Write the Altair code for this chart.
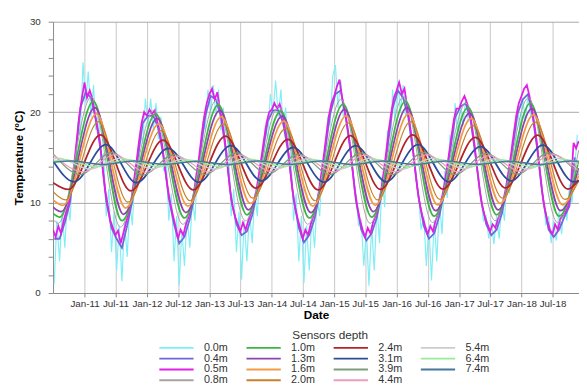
import altair as alt
import pandas as pd

# ---------------- data ----------------
# 0.5m sensor, values on the 1st and 16th of each month, Jul-2010 .. Dec-2018
temp_05m = [
    7.0, 6.2, 7.4, 6.6, 8.0, 9.0, 9.8, 11.8, 14.2, 16.8, 19.5, 21.5,
    23.3, 21.6, 22.4, 21.5, 20.0, 18.5, 16.8, 14.0, 11.5, 9.8, 8.0, 7.2, 6.4, 6.9, 5.5, 6.6, 7.8, 8.8, 10.2, 12.3, 14.5, 16.8, 18.8, 20.0,
    19.6, 20.3, 19.8, 20.2, 19.0, 17.8, 16.2, 13.8, 11.8, 10.0, 8.6, 7.4, 6.0, 7.0, 6.4, 7.6, 8.4, 9.6, 11.0, 13.0, 15.0, 17.4, 19.5, 21.0,
    22.0, 22.6, 21.4, 22.2, 20.6, 19.0, 17.0, 14.2, 11.5, 9.6, 8.4, 7.6, 6.8, 7.8, 7.0, 8.0, 8.8, 10.0, 11.2, 13.0, 15.0, 17.0, 18.8, 20.0,
    20.3, 21.0, 20.4, 20.9, 20.0, 18.6, 16.8, 14.0, 11.5, 9.6, 8.2, 7.2, 6.0, 7.0, 6.4, 7.6, 8.5, 9.6, 11.0, 13.0, 15.2, 17.5, 19.6, 21.0,
    21.8, 22.8, 23.6, 21.6, 20.4, 18.8, 16.8, 14.0, 11.4, 9.6, 8.0, 7.0, 6.2, 7.2, 6.6, 7.8, 8.6, 9.8, 11.2, 13.2, 15.6, 18.0, 20.0, 21.6,
    22.4, 23.3, 22.0, 22.6, 20.8, 19.0, 16.8, 14.0, 11.6, 9.8, 8.4, 7.4, 6.5, 7.4, 6.8, 8.0, 8.8, 10.0, 11.4, 13.2, 15.2, 17.2, 19.2, 20.4,
    20.4, 21.2, 21.8, 21.0, 20.2, 18.6, 16.4, 13.8, 11.4, 9.6, 8.4, 7.6, 6.8, 7.6, 7.2, 8.2, 9.0, 10.2, 11.6, 13.4, 15.4, 17.6, 19.6, 21.0,
    21.8, 22.6, 23.0, 21.8, 20.6, 18.8, 16.6, 13.8, 11.2, 9.4, 8.0, 7.0, 6.5, 7.6, 7.0, 8.2, 8.6, 9.0, 9.6, 11.5, 16.6, 16.0, 16.8,
]
# 0.0m sensor, values on the 8th and 23rd of each month, Jul-2010 .. Nov-2018
temp_00m = [
    1.0, 8.0, 3.5, 9.0, 5.0, 10.5, 8.0, 13.0, 12.5, 19.0, 17.5, 25.5,
    21.0, 24.5, 19.5, 23.0, 18.0, 20.0, 14.0, 15.5, 8.5, 11.5, 4.5, 9.0, 2.5, 7.5, 1.3, 8.0, 4.0, 10.0, 7.5, 13.5, 12.0, 18.0, 16.5, 21.5,
    18.5, 21.5, 18.0, 21.0, 17.0, 19.5, 13.5, 15.0, 8.0, 11.0, 3.5, 8.5, 0.8, 7.0, 3.0, 8.5, 5.0, 10.5, 8.0, 14.0, 13.0, 19.0, 18.0, 22.5,
    20.0, 23.0, 19.5, 22.5, 18.0, 20.5, 14.5, 16.0, 8.5, 11.5, 4.5, 9.0, 1.5, 8.0, 3.5, 9.0, 5.5, 11.0, 8.5, 14.0, 12.5, 18.5, 17.0, 22.0,
    20.0, 23.5, 19.5, 22.5, 18.5, 20.5, 14.0, 15.5, 8.0, 11.0, 3.5, 8.5, 1.1, 7.5, 2.5, 8.5, 5.0, 10.5, 8.5, 14.5, 13.5, 19.5, 18.5, 24.0,
    25.2, 20.5, 23.5, 19.5, 20.0, 17.5, 15.5, 13.0, 11.0, 7.5, 8.0, 3.0, 7.0, 0.8, 7.5, 2.5, 9.5, 5.5, 13.0, 9.5, 18.0, 14.0, 22.5, 19.0,
    23.5, 20.0, 23.0, 19.5, 20.0, 17.0, 15.5, 12.5, 11.0, 7.0, 8.5, 3.0, 7.5, 1.4, 8.0, 3.5, 10.0, 6.5, 13.5, 10.5, 17.5, 14.0, 21.0, 17.5,
    21.0, 18.5, 21.5, 19.0, 19.5, 17.0, 15.0, 12.5, 10.5, 8.0, 8.5, 6.0, 8.0, 5.4, 8.5, 6.0, 10.0, 8.0, 13.0, 11.0, 17.0, 14.5, 20.5, 18.0,
    21.5, 19.0, 22.0, 19.5, 19.5, 17.5, 15.0, 12.0, 10.5, 7.5, 8.5, 5.5, 8.0, 5.8, 9.0, 6.5, 10.0, 8.0, 12.0, 10.0, 14.0, 17.5,
]
# 0.4m sensor, one value on the 8th of each month, Jul-2010 .. Nov-2018
temp_04m = [
    6.0, 6.0, 7.8, 10.0, 14.8, 20.5,
    22.2, 21.6, 19.2, 15.5, 10.2, 7.2, 6.0, 5.0, 7.5, 10.2, 14.8, 18.8,
    19.6, 19.6, 18.2, 15.0, 10.5, 7.6, 5.5, 6.2, 8.2, 11.0, 15.5, 19.6,
    21.8, 21.4, 19.6, 15.6, 10.4, 7.6, 6.4, 6.8, 8.6, 11.2, 15.4, 19.0,
    20.2, 20.2, 18.8, 15.4, 10.4, 7.2, 5.6, 6.4, 8.2, 11.0, 15.6, 19.8,
    22.0, 22.4, 19.6, 15.4, 10.2, 7.0, 5.8, 6.6, 8.4, 11.2, 16.0, 20.4,
    22.4, 21.6, 19.6, 15.4, 10.6, 7.4, 6.0, 6.6, 8.6, 11.4, 15.6, 19.4,
    20.6, 21.0, 19.2, 15.0, 10.4, 7.6, 6.4, 7.0, 8.8, 11.6, 15.8, 19.8,
    21.4, 22.0, 19.4, 15.2, 10.2, 7.0, 6.2, 7.0, 8.4, 9.6, 15.0,
]

# deeper sensors: yearly summer peaks and winter troughs (month of year as fraction)
smooth_series = {
    "0.8m": dict(peak_month=1.3, trough_month=6.9, first_peak=2011, first_trough=2010,
                 peaks=[21.7, 20.2, 21.3, 20.6, 21.4, 21.7, 21.0, 21.6],
                 troughs=[7.7, 7.3, 7.6, 8.0, 7.6, 7.7, 7.8, 8.0, 7.8], start=8.2, end=15.8),
    "1.0m": dict(peak_month=1.7, trough_month=7.2, first_peak=2011, first_trough=2010,
                 peaks=[21.2, 19.8, 20.8, 20.1, 20.9, 21.2, 20.5, 21.0],
                 troughs=[8.4, 8.0, 8.3, 8.65, 8.3, 8.4, 8.5, 8.65, 8.5], start=8.8, end=14.6),
    "1.3m": dict(peak_month=2.0, trough_month=7.5, first_peak=2011, first_trough=2010,
                 peaks=[20.5, 19.3, 20.2, 19.6, 20.3, 20.5, 19.9, 20.4],
                 troughs=[9.0, 8.7, 8.9, 9.2, 8.9, 9.0, 9.1, 9.2, 9.1], start=9.5, end=13.8),
    "1.6m": dict(peak_month=2.3, trough_month=7.9, first_peak=2011, first_trough=2010,
                 peaks=[19.8, 18.7, 19.5, 19.0, 19.6, 19.8, 19.3, 19.7],
                 troughs=[9.7, 9.4, 9.6, 9.9, 9.6, 9.7, 9.75, 9.9, 9.75], start=10.3, end=13.0),
    "2.0m": dict(peak_month=2.7, trough_month=8.3, first_peak=2011, first_trough=2010,
                 peaks=[18.95, 18.0, 18.7, 18.2, 18.8, 18.95, 18.5, 18.9],
                 troughs=[10.3, 10.05, 10.2, 10.5, 10.2, 10.3, 10.35, 10.5, 10.35], start=11.2, end=12.4),
    "2.4m": dict(peak_month=3.1, trough_month=8.9, first_peak=2011, first_trough=2010,
                 peaks=[17.5, 16.9, 17.35, 17.0, 17.4, 17.5, 17.2, 17.45],
                 troughs=[11.45, 11.3, 11.4, 11.6, 11.4, 11.45, 11.5, 11.6, 11.5], start=12.2, end=12.5),
    "3.1m": dict(peak_month=4.1, trough_month=10.0, first_peak=2011, first_trough=2010,
                 peaks=[16.4, 16.0, 16.3, 16.1, 16.3, 16.4, 16.2, 16.35],
                 troughs=[12.3, 12.2, 12.25, 12.4, 12.25, 12.3, 12.3, 12.4, 12.3], start=14.6, end=12.35),
    "3.9m": dict(peak_month=5.2, trough_month=11.2, first_peak=2011, first_trough=2010,
                 peaks=[15.55, 15.3, 15.5, 15.35, 15.5, 15.55, 15.45, 15.5],
                 troughs=[13.1, 13.05, 13.1, 13.15, 13.1, 13.1, 13.1, 13.15], start=15.4, end=13.1),
    "4.4m": dict(peak_month=5.8, trough_month=11.8, first_peak=2011, first_trough=2010,
                 peaks=[15.3, 15.1, 15.25, 15.15, 15.25, 15.3, 15.2, 15.3],
                 troughs=[13.4, 13.35, 13.4, 13.45, 13.4, 13.4, 13.4, 13.45], start=15.3, end=13.5),
    "5.4m": dict(peak_month=7.0, trough_month=1.0, first_peak=2010, first_trough=2011,
                 peaks=[14.9, 14.9, 14.8, 14.9, 14.85, 14.9, 14.9, 14.85, 14.9],
                 troughs=[13.7, 13.75, 13.7, 13.75, 13.7, 13.7, 13.75, 13.7], start=14.85, end=14.2),
    "6.4m": dict(peak_month=8.2, trough_month=2.2, first_peak=2010, first_trough=2011,
                 peaks=[14.75, 14.75, 14.7, 14.75, 14.72, 14.75, 14.75, 14.72, 14.75],
                 troughs=[13.97, 14.0, 13.97, 14.0, 13.97, 13.97, 14.0, 13.97], start=14.55, end=14.5),
    "7.4m": dict(peak_month=9.5, trough_month=3.5, first_peak=2010, first_trough=2011,
                 peaks=[14.6, 14.6, 14.58, 14.6, 14.6, 14.6, 14.6, 14.58, 14.6],
                 troughs=[14.2, 14.22, 14.2, 14.22, 14.2, 14.2, 14.22, 14.2], start=14.45, end=14.58),
}

depth_order = ["0.0m", "0.4m", "0.5m", "0.8m", "1.0m", "1.3m", "1.6m", "2.0m",
               "2.4m", "3.1m", "3.9m", "4.4m", "5.4m", "6.4m", "7.4m"]
depth_colors = {
    "0.0m": "#80eef5", "0.4m": "#6f68d8", "0.5m": "#e41fe4", "0.8m": "#a4a4a4",
    "1.0m": "#3db545", "1.3m": "#8e44ad", "1.6m": "#f39a45", "2.0m": "#c8802c",
    "2.4m": "#b0242c", "3.1m": "#2b4c9b", "3.9m": "#7d9d7d", "4.4m": "#ee9cc0",
    "5.4m": "#cccccc", "6.4m": "#98ec98", "7.4m": "#47789a",
}
depth_widths = {
    "0.0m": 1.2, "0.4m": 1.8, "0.5m": 1.8, "0.8m": 1.0, "1.0m": 1.8, "1.3m": 1.8,
    "1.6m": 1.8, "2.0m": 1.2, "2.4m": 1.8, "3.1m": 1.8, "3.9m": 1.2, "4.4m": 1.2,
    "5.4m": 1.4, "6.4m": 1.4, "7.4m": 1.6,
}

# ---------------- build tables ----------------
def month_days(n, days, y=2010, m=7):
    out = []
    while len(out) < n:
        for d in days:
            if len(out) < n:
                out.append(f"{y:04d}-{m:02d}-{d:02d}")
        m += 1
        if m > 12:
            m, y = 1, y + 1
    return out

rows = []
for name, vals, days in [("0.0m", temp_00m, (8, 23)), ("0.4m", temp_04m, (8,)), ("0.5m", temp_05m, (1, 16))]:
    for d, v in zip(month_days(len(vals), days), vals):
        rows.append({"date": d, "temp": v, "depth": name, "sw": depth_widths[name]})
noisy_df = pd.DataFrame(rows)

t0 = pd.Timestamp("2010-07-01")
t1 = pd.Timestamp("2018-12-01")
rows = []
for name, s in smooth_series.items():
    pts = [(t0, s["start"]), (t1, s["end"])]
    for i, v in enumerate(s["peaks"]):
        pts.append((pd.Timestamp(year=s["first_peak"] + i, month=1, day=1) + pd.Timedelta(days=round(s["peak_month"] * 30.44)), v))
    for i, v in enumerate(s["troughs"]):
        pts.append((pd.Timestamp(year=s["first_trough"] + i, month=1, day=1) + pd.Timedelta(days=round(s["trough_month"] * 30.44)), v))
    pts = sorted(p for p in pts if t0 <= p[0] <= t1)
    for d, v in pts:
        rows.append({"date": d.strftime("%Y-%m-%d"), "temp": v, "depth": name, "sw": depth_widths[name]})
smooth_df = pd.DataFrame(rows)

tick_dates = [alt.DateTime(year=y, month=m, date=1, utc=True)
              for y in range(2011, 2019) for m in (1, 7)]

x_enc = alt.X("date:T", title="Date",
              scale=alt.Scale(type="utc",
                              domain=[alt.DateTime(year=2010, month=7, date=1, utc=True),
                                      alt.DateTime(year=2018, month=12, date=3, utc=True)]),
              axis=alt.Axis(values=tick_dates, format="%b-%y", grid=True, gridColor="#c8c8c8",
                            tickSize=4, labelPadding=2, titlePadding=1))
y_enc = alt.Y("temp:Q", title="Temperature (°C)",
              scale=alt.Scale(domain=[0, 30], nice=False),
              axis=alt.Axis(values=list(range(0, 31, 2)),
                            labelExpr="datum.value % 10 === 0 ? datum.label : ''",
                            gridOpacity={"condition": {"test": "datum.value % 10 === 0", "value": 1}, "value": 0},
                            gridColor="#a8a8a8", tickSize=5, labelPadding=8, titlePadding=4))
color_enc = alt.Color("depth:N",
                      scale=alt.Scale(domain=depth_order, range=[depth_colors[d] for d in depth_order]),
                      legend=alt.Legend(title="Sensors depth", orient="none", legendX=120, legendY=315,
                                        values=depth_order,
                                        columns=4, symbolType="M-3.5,0H3.5", symbolSize=100,
                                        symbolStrokeWidth=2, columnPadding=14, rowPadding=0,
                                        labelFontSize=11, titleFontSize=12, titleFontWeight="normal",
                                        titleAnchor="middle", titleColor="#333", labelColor="#333",
                                        labelOffset=22, titlePadding=0, labelFont="Liberation Sans",
                                        titleFont="Liberation Sans"))
sw_enc = alt.StrokeWidth("sw:Q", scale=None, legend=None)

noisy = alt.Chart(noisy_df).mark_line(clip=True).encode(
    x=x_enc, y=y_enc, color=color_enc, strokeWidth=sw_enc)
smooth = alt.Chart(smooth_df).mark_line(clip=True, interpolate="monotone").encode(
    x=x_enc, y=y_enc, color=color_enc, strokeWidth=sw_enc)

chart = alt.layer(noisy, smooth).properties(
    width=537, height=277,
    padding={"left": 4, "top": 5, "right": 0, "bottom": 0},
).configure_view(stroke=None).configure_axis(
    labelFont="Liberation Sans", titleFont="Liberation Sans", labelFontSize=10,
    titleFontSize=12, titleFontWeight="bold", labelColor="#333", titleColor="#000",
    domainColor="#888", tickColor="#888",
)

chart.save("out.html", embed_options={"renderer": "svg", "actions": False})
